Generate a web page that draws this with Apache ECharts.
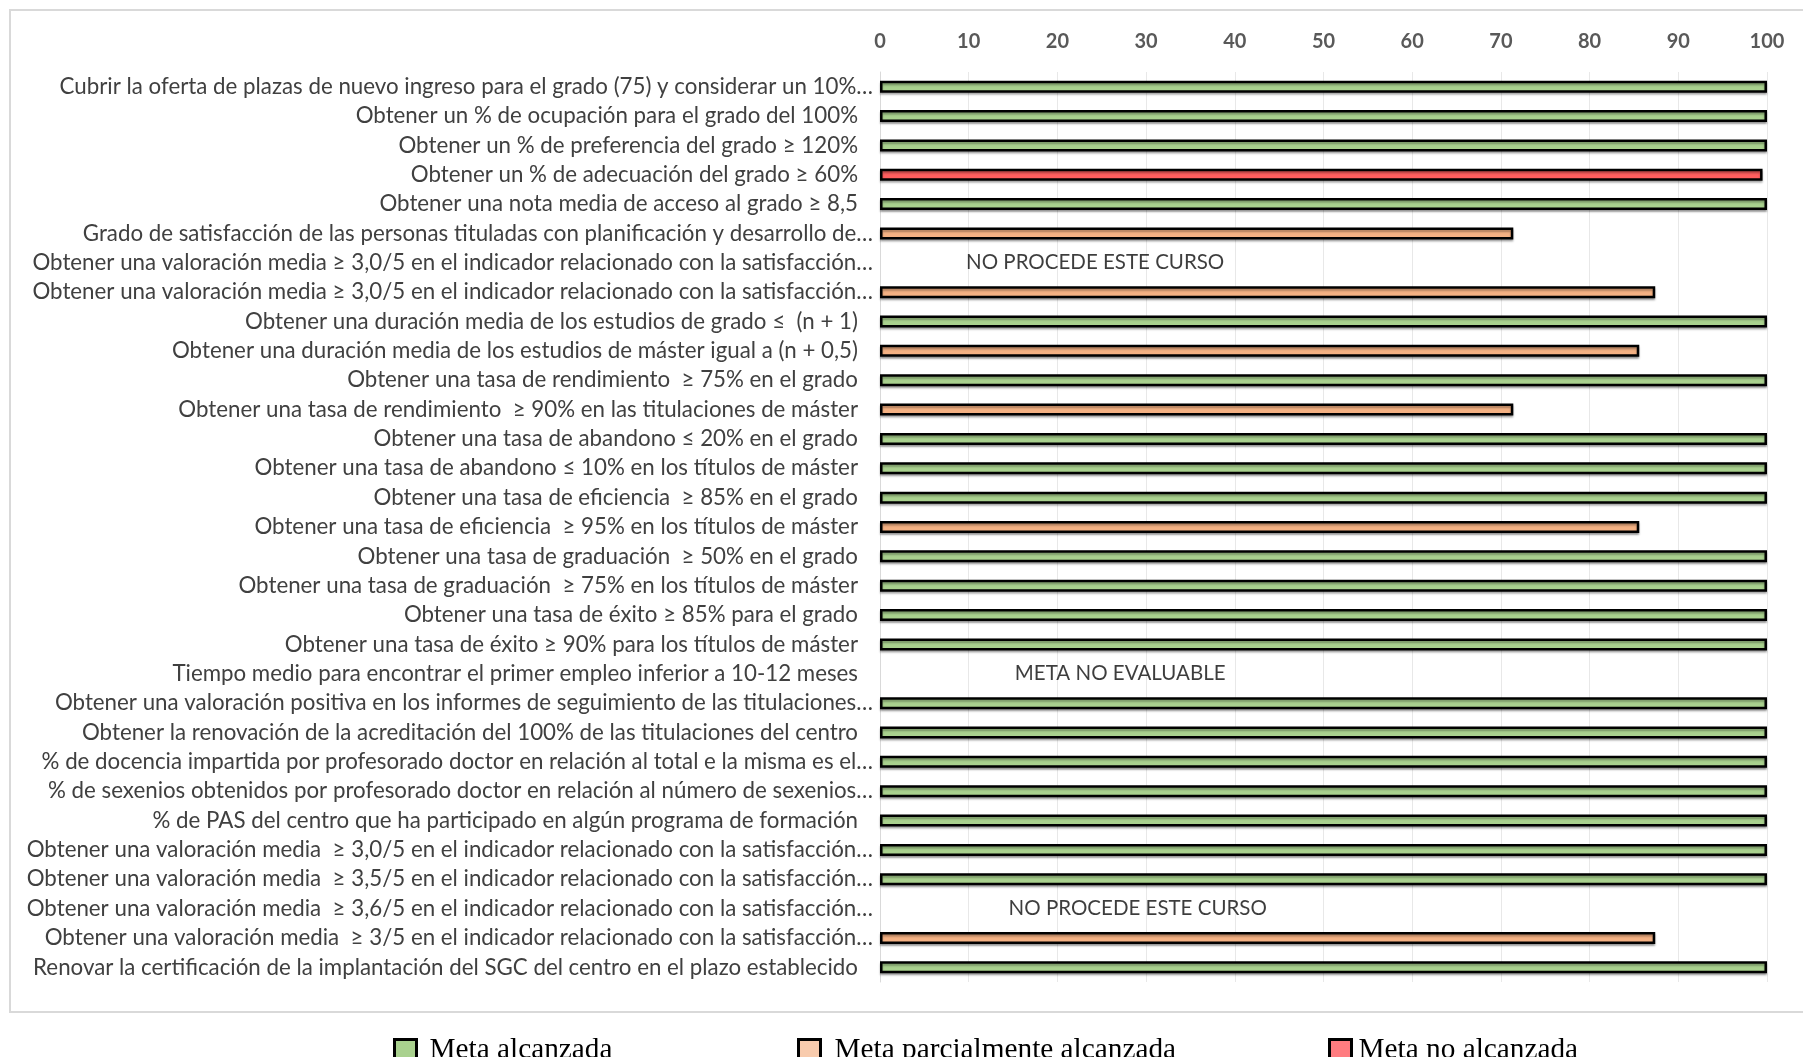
<!DOCTYPE html>
<html>
<head>
<meta charset="utf-8">
<script src="https://cdn.jsdelivr.net/npm/echarts@6/dist/echarts.min.js"></script>
<style>
  html, body { margin: 0; padding: 0; background: #fff; }
  #graph { width: 1803px; height: 1057px; }
</style>
</head>
<body>
<div id="graph"></div>
<script>
// categories of the chart (goals), top to bottom
var categories = [
    'Cubrir la oferta de plazas de nuevo ingreso para el grado (75) y considerar un 10%…',
    'Obtener un % de ocupación para el grado del 100%',
    'Obtener un % de preferencia del grado ≥ 120%',
    'Obtener un % de adecuación del grado ≥ 60%',
    'Obtener una nota media de acceso al grado ≥ 8,5',
    'Grado de satisfacción de las personas tituladas con planificación y desarrollo de…',
    'Obtener una valoración media ≥ 3,0/5 en el indicador relacionado con la satisfacción…',
    'Obtener una valoración media ≥ 3,0/5 en el indicador relacionado con la satisfacción…',
    'Obtener una duración media de los estudios de grado ≤  (n + 1)',
    'Obtener una duración media de los estudios de máster igual a (n + 0,5)',
    'Obtener una tasa de rendimiento  ≥ 75% en el grado',
    'Obtener una tasa de rendimiento  ≥ 90% en las titulaciones de máster',
    'Obtener una tasa de abandono ≤ 20% en el grado',
    'Obtener una tasa de abandono ≤ 10% en los títulos de máster',
    'Obtener una tasa de eficiencia  ≥ 85% en el grado',
    'Obtener una tasa de eficiencia  ≥ 95% en los títulos de máster',
    'Obtener una tasa de graduación  ≥ 50% en el grado',
    'Obtener una tasa de graduación  ≥ 75% en los títulos de máster',
    'Obtener una tasa de éxito ≥ 85% para el grado',
    'Obtener una tasa de éxito ≥ 90% para los títulos de máster',
    'Tiempo medio para encontrar el primer empleo inferior a 10-12 meses',
    'Obtener una valoración positiva en los informes de seguimiento de las titulaciones…',
    'Obtener la renovación de la acreditación del 100% de las titulaciones del centro',
    '% de docencia impartida por profesorado doctor en relación al total e la misma es el…',
    '% de sexenios obtenidos por profesorado doctor en relación al número de sexenios…',
    '% de PAS del centro que ha participado en algún programa de formación',
    'Obtener una valoración media  ≥ 3,0/5 en el indicador relacionado con la satisfacción…',
    'Obtener una valoración media  ≥ 3,5/5 en el indicador relacionado con la satisfacción…',
    'Obtener una valoración media  ≥ 3,6/5 en el indicador relacionado con la satisfacción…',
    'Obtener una valoración media  ≥ 3/5 en el indicador relacionado con la satisfacción…',
    'Renovar la certificación de la implantación del SGC del centro en el plazo establecido'
];

// degree of achievement of each goal (null = no bar)
var values = [100, 100, 100, 99.5, 100, 71.4, null, 87.4, 100, 85.6,
              100, 71.4, 100, 100, 100, 85.6, 100, 100, 100, 100,
              null, 100, 100, 100, 100, 100, 100, 100, null, 87.4, 100];

// status of each goal: A = alcanzada, P = parcialmente, N = no alcanzada
// (not called "status": window.status would turn the array into a string)
var goalStatus = ['A', 'A', 'A', 'N', 'A', 'P', null, 'P', 'A', 'P',
                  'A', 'P', 'A', 'A', 'A', 'P', 'A', 'A', 'A', 'A',
                  null, 'A', 'A', 'A', 'A', 'A', 'A', 'A', null, 'P', 'A'];

// notes written on the rows without bar
var noteRows = [6, 20, 28];
var noteTexts = ['NO PROCEDE ESTE CURSO', 'META NO EVALUABLE', 'NO PROCEDE ESTE CURSO'];
var noteX = [9.7, 15.2, 14.5];

// x axis ticks
var xTicks = [0, 10, 20, 30, 40, 50, 60, 70, 80, 90, 100];

// split values per status, one series each (the others stay empty)
function pick(code) {
    return values.map(function (v, i) { return goalStatus[i] === code ? v : null; });
}

var notesData = noteRows.map(function (r, i) { return [noteX[i], r, noteTexts[i]]; });

var chart = echarts.init(document.getElementById('graph'));

// bars of the 3 series overlap on the same row
function barSeries(name, code, color) {
    return {
        name: name,
        type: 'bar',
        barGap: '-100%',
        barWidth: 12,
        data: pick(code),
        itemStyle: {
            color: color,
            borderColor: '#000',
            borderWidth: 2.5,
            shadowColor: 'rgba(0,0,0,0.3)',
            shadowBlur: 2,
            shadowOffsetY: 2
        },
        silent: true
    };
}

// one legend per item so each can sit where it is in the original
function legendItem(name, color, left, gap) {
    return {
        data: [{ name: name, itemStyle: { color: color, borderColor: '#000', borderWidth: 3 } }],
        left: left,
        top: 1031,
        icon: 'rect',
        itemWidth: 22,
        itemHeight: 22,
        selectedMode: false,
        textStyle: {
            fontFamily: 'Liberation Serif',
            fontSize: 29.3,
            color: '#000',
            padding: [0, 0, 0, gap]
        }
    };
}

var option = {
    animation: false,
    graphic: [{
        type: 'rect',
        shape: { x: 10, y: 10, width: 1800, height: 1002 },
        style: { fill: 'none', stroke: '#d9d9d9', lineWidth: 2 },
        silent: true
    }],
    legend: [
        legendItem('Meta alcanzada', '#A9D18E', 388, 8),
        legendItem('Meta parcialmente alcanzada', '#F8CBAD', 792, 9),
        legendItem('Meta no alcanzada', '#FF7C80', 1323, 2)
    ],
    grid: {
        left: 880,
        right: 36,
        top: 72,
        bottom: 75
    },
    xAxis: {
        type: 'value',
        position: 'top',
        min: xTicks[0],
        max: xTicks[xTicks.length - 1],
        interval: 10,
        axisLine: { show: false },
        axisTick: { show: false },
        splitLine: { lineStyle: { color: '#e8e8e8', width: 1 } },
        axisLabel: {
            margin: 20,
            color: '#595959',
            fontFamily: 'Lato',
            fontWeight: 'bold',
            fontSize: 20
        }
    },
    yAxis: {
        type: 'category',
        inverse: true,
        data: categories,
        axisLine: { lineStyle: { color: '#d9d9d9', width: 1 } },
        axisTick: { show: false },
        axisLabel: {
            interval: 0,
            margin: 7,
            color: '#404040',
            fontFamily: 'Lato',
            fontSize: 22.3,
            formatter: function (v) {
                return v.slice(-1) === '…' ? v : '{p|' + v + '}';
            },
            rich: {
                p: {
                    color: '#404040',
                    fontFamily: 'Lato',
                    fontSize: 22.3,
                    padding: [0, 15, 0, 0]
                }
            }
        }
    },
    series: [
        barSeries('Meta alcanzada', 'A', '#A9D18E'),
        barSeries('Meta parcialmente alcanzada', 'P', '#F4B183'),
        barSeries('Meta no alcanzada', 'N', '#FF5F5F'),
        {
            type: 'scatter',
            data: notesData,
            symbolSize: 0,
            silent: true,
            label: {
                show: true,
                position: 'right',
                distance: 0,
                color: '#0d0d0d',
                fontFamily: 'Lato',
                fontSize: 20.5,
                formatter: function (p) { return p.data[2]; }
            }
        }
    ]
};

chart.setOption(option);
</script>
</body>
</html>
